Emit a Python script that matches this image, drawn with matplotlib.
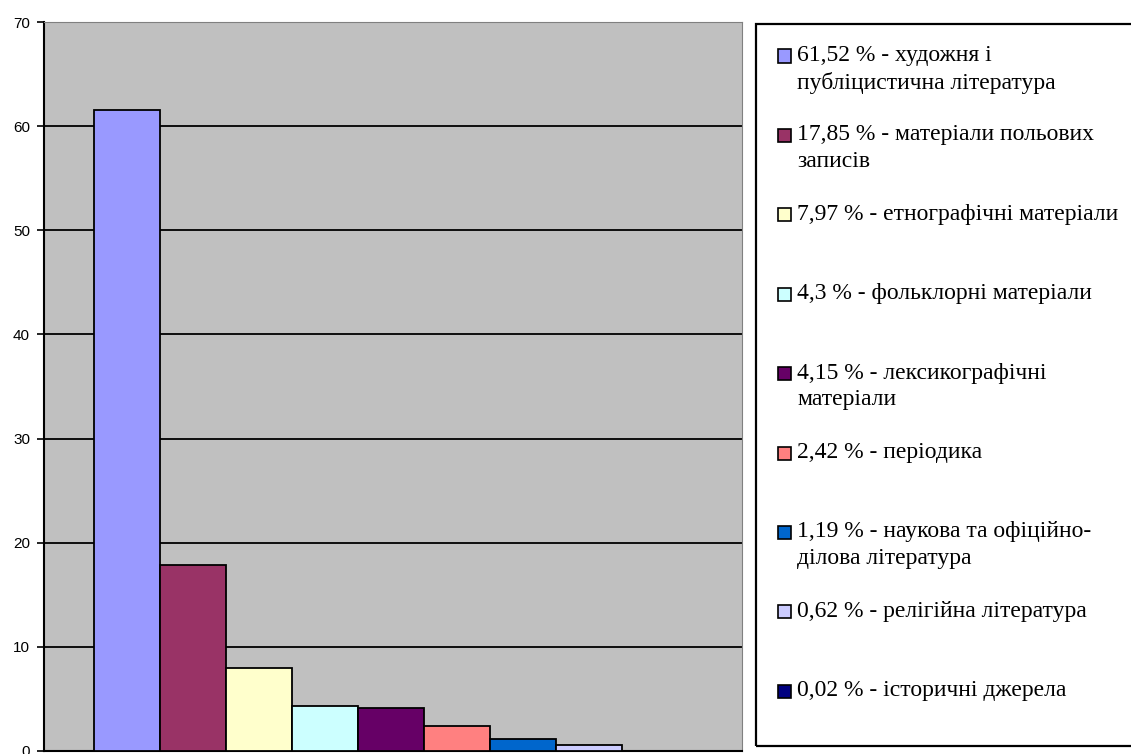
import matplotlib.pyplot as plt
from matplotlib.patches import Rectangle

# values (percent)
values = [61.52, 17.85, 7.97, 4.3, 4.15, 2.42, 1.19, 0.62, 0.02]
labels = [
    "61,52 % - художня і\nпубліцистична література",
    "17,85 % - матеріали польових\nзаписів",
    "7,97 % - етнографічні матеріали",
    "4,3 % - фольклорні матеріали",
    "4,15 % - лексикографічні\nматеріали",
    "2,42 % - періодика",
    "1,19 % - наукова та офіційно-\nділова література",
    "0,62 % - релігійна література",
    "0,02 % - історичні джерела",
]
colors = ["#9999FF", "#993366", "#FFFFCC", "#CCFFFF", "#660066",
          "#FF8080", "#0066CC", "#CCCCFF", "#000080"]
yticks = [0, 10, 20, 30, 40, 50, 60, 70]

W, H = 1131, 754
fig = plt.figure(figsize=(W / 100, H / 100), dpi=100)
fig.patch.set_facecolor("white")

# plot area
ax = fig.add_axes([44 / W, 3 / H, 698 / W, 729 / H])
ax.set_facecolor("#C0C0C0")
x = list(range(len(values)))
ax.bar(x, values, width=1.0, color=colors, edgecolor="black", linewidth=1.3, zorder=3)
ax.set_xlim(-0.5 - 50 / 66, -0.5 + 698 / 66 - 50 / 66)
ax.set_ylim(0, 70)
ax.set_yticks(yticks)
ax.yaxis.grid(True, color="black", linewidth=1.3, zorder=0)
ax.set_axisbelow(True)
ax.set_xticks([])
ax.tick_params(axis="y", direction="out", length=5, width=1.2, labelsize=11, pad=5)
for t in ax.get_yticklabels():
    t.set_fontfamily("Liberation Sans")
ax.spines["left"].set_linewidth(1.5)
ax.spines["bottom"].set_linewidth(1.5)
ax.spines["top"].set_color("#808080")
ax.spines["right"].set_color("#808080")

# legend box (drawn manually to keep Excel-like uneven wrapping)
fig.patches.append(Rectangle((756 / W, 8 / H), 400 / W, 722 / H,
                             transform=fig.transFigure, fill=False,
                             edgecolor="black", linewidth=1.6))
step = 79.4
for i, (lab, c) in enumerate(zip(labels, colors)):
    yc = 56 + i * step
    fig.patches.append(Rectangle((778 / W, (H - yc - 6.5) / H), 13 / W, 13 / H,
                                 transform=fig.transFigure, facecolor=c,
                                 edgecolor="black", linewidth=1.2))
    fig.text(797 / W, (H - yc + 11) / H, lab, fontsize=17,
             family="Liberation Serif", va="top", ha="left",
             linespacing=1.34)

fig.savefig("out.png", dpi=100)
